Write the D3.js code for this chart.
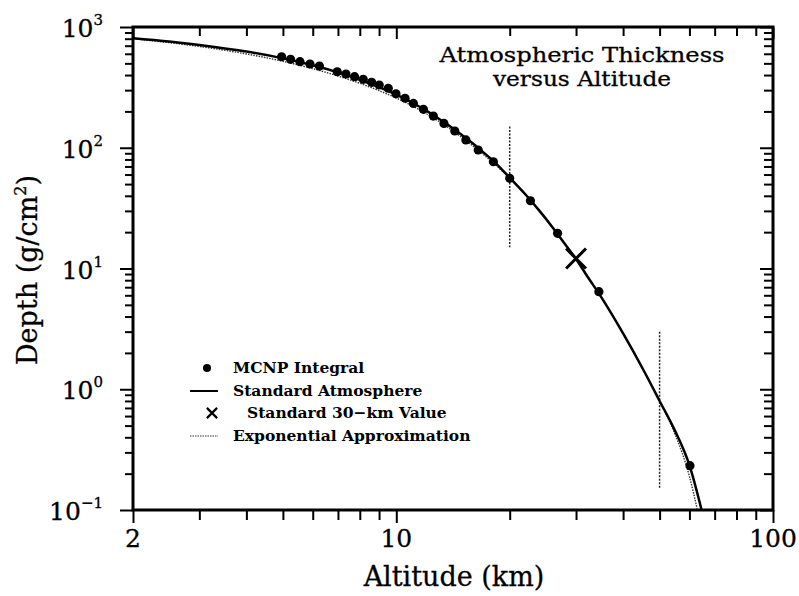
<!DOCTYPE html>
<html><head><meta charset="utf-8">
<script src="https://cdn.jsdelivr.net/npm/d3@7"></script>
<style>
html,body{margin:0;padding:0;background:#fff;}
svg{display:block;}
text{font-family:"DejaVu Serif",serif;fill:#000;}
</style></head>
<body><svg id="c" width="799" height="596"></svg>
<script>
// ---------- data ----------
const stdAlt   = [2,3,4,5,6,7,8,9,10,11,12,13,14,15,16,17,18,19,20,22,24,26,28,30,32,35,40,45,50,55,60,65];
const stdDepth = [807,711,626,550,482,421,366,318,275,237,203,173,148,126,108,92,79,67,56.5,41.2,30.0,21.9,16.0,12.0,8.8,5.8,2.9,1.5,0.80,0.45,0.235,0.093];

const expAlt   = [2,3,4,5,6,7,8,9,10,12,14,16,18,20,22,24,26,28,30,32,35,40,45,50,55,60,63];
const expDepth = [800,690,598,520,452,393,342,297,258,192,141,103,76,56,41.2,30.0,21.9,16.0,12.0,8.8,5.8,2.9,1.5,0.80,0.42,0.19,0.1];

const mcnpAlt   = [4.96,5.24,5.55,5.9,6.25,6.97,7.35,7.75,8.17,8.6,9.01,9.52,9.98,10.55,11.1,11.8,12.54,13.38,14.3,15.3,16.5,18.1,20,22.7,26.8,34.5,60.2];
const mcnpDepth = [567,540,516,494,475,426,408,388,369,348,331,311,280,257,233,208,183,159,137.6,116,95.8,76.6,55.8,36.4,19.56,6.43,0.233];

const std30Alt = [30];
const std30Depth = [12.1];

const barAlt = [20,50];
const barLow = [15,0.15];
const barHigh = [150,3];

const xMajor = [2,10,100];
const xMajorLabels = ["2","10","100"];
const xMinor = [3,4,5,6,7,8,9,20,30,40,50,60,70,80,90];
const yMajor = [0.1,1,10,100,1000];
const yExpLabels = ["\u22121","0","1","2","3"];
const yMinor = [];
[0.1,1,10,100].forEach(d=>{for(let k=2;k<=9;k++) yMinor.push(+(d*k).toPrecision(3));});

const title = ["Atmospheric Thickness","versus Altitude"];
const titleWidths = [285,178];
const xTitle = "Altitude (km)";
const legendLabels = ["MCNP Integral","Standard Atmosphere","Standard 30\u2212km Value","Exponential Approximation"];

// ---------- chart ----------
const svg = d3.select("#c");
const L=133,R=773,T=27,B=510;
const x = d3.scaleLog().domain([2,100]).range([L,R]);
const y = d3.scaleLog().domain([0.1,1000]).range([B,T]);

svg.append("clipPath").attr("id","clip").append("rect")
  .attr("x",L).attr("y",T).attr("width",R-L).attr("height",B-T);

function axisGroup(axis, tf){
  const g = svg.append("g").attr("transform",tf).call(axis);
  g.select(".domain").remove();
  g.selectAll(".tick line").attr("stroke","#000").attr("stroke-width",2);
  g.selectAll(".tick text").remove();
  return g;
}
// bottom: outward
axisGroup(d3.axisBottom(x).tickValues(xMajor).tickSize(13).tickFormat(""), `translate(0,${B})`);
axisGroup(d3.axisBottom(x).tickValues(xMinor).tickSize(10).tickFormat(""), `translate(0,${B})`);
// top: inward
axisGroup(d3.axisBottom(x).tickValues(xMajor).tickSize(12).tickFormat(""), `translate(0,${T})`);
axisGroup(d3.axisBottom(x).tickValues(xMinor).tickSize(9).tickFormat(""), `translate(0,${T})`);
// left: outward
axisGroup(d3.axisLeft(y).tickValues(yMajor).tickSize(13).tickFormat(""), `translate(${L},0)`);
axisGroup(d3.axisLeft(y).tickValues(yMinor).tickSize(8).tickFormat(""), `translate(${L},0)`);
// right: inward
axisGroup(d3.axisLeft(y).tickValues(yMajor).tickSize(13).tickFormat(""), `translate(${R},0)`);
axisGroup(d3.axisLeft(y).tickValues(yMinor).tickSize(9).tickFormat(""), `translate(${R},0)`);

// frame
svg.append("rect").attr("x",L).attr("y",T).attr("width",R-L).attr("height",B-T)
  .attr("fill","none").attr("stroke","#000").attr("stroke-width",3);

// tick labels x
svg.selectAll(".xl").data(xMajor).enter().append("text")
  .attr("x",d=>x(d)).attr("y",B+37).attr("text-anchor","middle")
  .attr("font-size",25).attr("stroke","#000").attr("stroke-width",0.3).text((d,i)=>xMajorLabels[i]);

// tick labels y
yMajor.forEach((d,i)=>{
  const t = svg.append("text").attr("x",L-30).attr("y",y(d)+10).attr("text-anchor","end")
    .attr("font-size",25).attr("stroke","#000").attr("stroke-width",0.3);
  t.append("tspan").text("10");
  t.append("tspan").attr("font-size",15).attr("dy",-12).text(yExpLabels[i]);
});

// axis titles
svg.append("text").attr("x",454).attr("y",586).attr("text-anchor","middle")
  .attr("font-size",27).attr("stroke","#000").attr("stroke-width",0.3).text(xTitle);
const yt = svg.append("text").attr("transform","translate(37,270) rotate(-90)")
  .attr("text-anchor","middle").attr("font-size",27).attr("stroke","#000").attr("stroke-width",0.3);
yt.append("tspan").text("Depth (g/cm");
yt.append("tspan").attr("font-size",16).attr("dy",-11).text("2");
yt.append("tspan").attr("dy",11).text(")");

// title
svg.selectAll(".tt").data(title).enter().append("text")
  .attr("x",582).attr("y",(d,i)=>62+i*24).attr("text-anchor","middle")
  .attr("font-size",20).attr("stroke","#000").attr("stroke-width",0.3)
  .attr("textLength",(d,i)=>titleWidths[i]).attr("lengthAdjust","spacingAndGlyphs")
  .text(d=>d);

const plot = svg.append("g").attr("clip-path","url(#clip)");
const line = d3.line().x(d=>x(d[0])).y(d=>y(d[1])).curve(d3.curveMonotoneX);

// exponential approx (dotted)
plot.append("path").datum(d3.zip(expAlt,expDepth)).attr("d",line)
  .attr("fill","none").attr("stroke","#333").attr("stroke-width",1.4).attr("stroke-dasharray","1.5,1.2");
// vertical markers
plot.selectAll(".bar").data(barAlt).enter().append("line")
  .attr("x1",d=>x(d)).attr("x2",d=>x(d))
  .attr("y1",(d,i)=>y(barHigh[i])).attr("y2",(d,i)=>y(barLow[i]))
  .attr("stroke","#222").attr("stroke-width",1.5).attr("stroke-dasharray","2,1.5");
// standard atmosphere
plot.append("path").datum(d3.zip(stdAlt,stdDepth)).attr("d",line)
  .attr("fill","none").attr("stroke","#000").attr("stroke-width",2.5);
// MCNP dots
plot.selectAll(".dot").data(d3.zip(mcnpAlt,mcnpDepth)).enter().append("circle")
  .attr("cx",d=>x(d[0])).attr("cy",d=>y(d[1])).attr("r",4.6).attr("fill","#000");
// 30 km X
const xs = d3.symbol().type(d3.symbolX).size(260);
plot.selectAll(".x30").data(d3.zip(std30Alt,std30Depth)).enter().append("path")
  .attr("d",xs).attr("transform",d=>`translate(${x(d[0])},${y(d[1])})`)
  .attr("fill","none").attr("stroke","#000").attr("stroke-width",3);

// legend
const lg = svg.append("g");
const ly = [373,396,418,441];
lg.append("circle").attr("cx",207).attr("cy",ly[0]-5).attr("r",4).attr("fill","#000");
lg.append("line").attr("x1",190).attr("x2",218).attr("y1",ly[1]-5).attr("y2",ly[1]-5).attr("stroke","#000").attr("stroke-width",2);
lg.append("path").attr("d",d3.symbol().type(d3.symbolX).size(70)).attr("transform",`translate(212,${ly[2]-5})`)
  .attr("fill","none").attr("stroke","#000").attr("stroke-width",2.2);
lg.append("line").attr("x1",190).attr("x2",218).attr("y1",ly[3]-5).attr("y2",ly[3]-5).attr("stroke","#333").attr("stroke-width",1.2).attr("stroke-dasharray","1.5,1");
lg.selectAll("text").data(legendLabels).enter().append("text")
  .attr("x",(d,i)=>i===2?247:233).attr("y",(d,i)=>ly[i]).attr("font-size",15.5).attr("font-weight","bold")
  .text(d=>d);
</script></body></html>
